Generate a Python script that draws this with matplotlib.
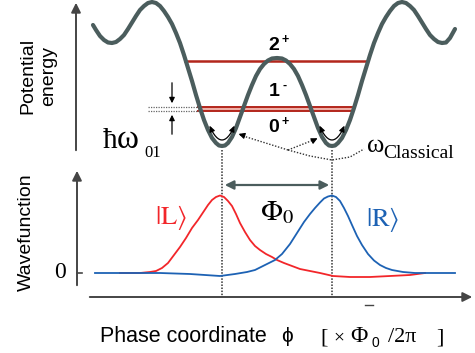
"""
Schema: doppia buca di potenziale (livelli 0+, 1-, 2+) e funzioni d'onda |L>, |R>.
Coordinate in pixel dell'immagine (475x353), asse y invertito.
"""
import numpy as np
import matplotlib
matplotlib.use("Agg")
import matplotlib.pyplot as plt

plt.rcParams["font.family"] = ["Liberation Sans", "DejaVu Sans"]
plt.rcParams["mathtext.fontset"] = "stix"
SERIF = ["Liberation Serif", "DejaVu Serif"]

# --- dati --------------------------------------------------------------------
pot_x = [93, 96, 100, 104, 108, 112, 116, 120, 124, 128, 132, 136, 140, 144, 148,
         152, 156, 160, 164, 168, 172, 176, 180, 184, 188, 192, 196, 200, 204, 208,
         212, 216, 219, 222, 225, 228, 232, 236, 240, 244, 248, 252, 256, 260, 264,
         268, 272, 277, 282, 286, 290, 294, 298, 302, 306, 310, 314, 318, 322, 326,
         329, 332, 335, 338, 342, 346, 350, 354, 358, 362, 366, 370, 374, 378, 382,
         386, 390, 394, 398, 402, 406, 410, 414, 418, 422, 426, 430, 434, 438, 442,
         446, 450, 455]
pot_y = [25, 30, 36, 40, 42.5, 43, 42, 39, 35, 29, 22.5, 16, 10, 6, 3,
         2, 3, 6, 11, 17, 24, 33, 43, 55, 68, 81, 95, 108, 120, 130,
         138, 143, 145.5, 146, 145.5, 143, 137, 128, 117, 106, 95, 85, 76, 69, 64,
         60.5, 58.5, 58, 58.5, 60.5, 64, 69, 76, 85, 95, 106, 117, 128, 137, 143,
         145.5, 146, 145.5, 143, 138, 130, 120, 108, 95, 81, 68, 55, 43, 33, 24,
         17, 11, 6, 3, 2, 3, 6, 10, 16, 22.5, 29, 35, 39, 42, 43,
         42.5, 38, 29]

# livelli energetici
lev2_y, lev2_x = 61, (185, 367)
lev01_y, lev01_x = (107, 111), (198, 352)
level_labels = ["2", "1", "0"]
level_sups = ["+", "-", "+"]
level_label_y = [46, 92, 128]

# funzioni d'onda
wl_x = [120, 140, 150, 156, 162, 168, 174, 180, 186, 192, 198, 204, 208, 212, 216,
        220, 224, 228, 232, 236, 240, 245, 250, 255, 260, 266, 272, 277, 284, 292,
        300, 310, 320, 333, 350, 370, 390, 410, 425]
wl_y = [273, 273, 272, 271, 268, 263, 255, 247, 238, 228, 220, 211, 205, 200, 197,
        195.5, 197, 201, 206, 214, 223, 232, 240, 246, 250, 254, 257, 260, 263, 266,
        269, 271, 273, 276, 277, 277, 276, 275, 273]
wr_x = [95, 160, 190, 205, 220, 235, 247, 255, 265, 275, 282, 290, 297, 304, 310,
        315, 320, 324, 328, 332, 336, 340, 344, 348, 352, 357, 362, 368, 374, 380,
        386, 392, 403, 415, 435, 455]
wr_y = [273, 273, 274, 275, 276, 274, 272, 270, 265, 260, 254, 244, 233, 222, 214,
        208, 202.5, 198.5, 196.5, 195.5, 197, 201, 208, 216, 225, 236, 245, 254, 260.5, 265,
        268, 270, 272, 273, 273, 273]

well_x = (222, 332)   # minimi delle buche
zero_y = 273

# --- colori ------------------------------------------------------------------
C_POT = "#4b5d5d"
C_LEV = "#b3261c"
C_PINK = "#eeb0a8"
C_AX = "#454545"
C_RED = "#f2262a"
C_BLUE = "#1d62b4"

fig = plt.figure(figsize=(4.75, 3.53), dpi=100)
ax = fig.add_axes([0, 0, 1, 1])
ax.set_xlim(0, 475)
ax.set_ylim(353, 0)
ax.axis("off")

# assi
arr = dict(arrowstyle="-|>", color=C_AX, lw=1.4, mutation_scale=14)
ax.annotate("", xy=(76, 0), xytext=(76, 153), arrowprops=arr)
ax.annotate("", xy=(77, 168), xytext=(77, 288), arrowprops=arr)
ax.annotate("", xy=(475, 297), xytext=(87, 297), arrowprops=arr)
ax.plot([77, 82], [zero_y, zero_y], color=C_AX, lw=1.2)
ax.plot([365, 373], [305, 305], color=C_AX, lw=1.0)

# livelli
ax.fill_between(lev01_x, lev01_y[0], lev01_y[1], color=C_PINK, lw=0)
for y in lev01_y:
    ax.plot(lev01_x, [y, y], color=C_LEV, lw=1.4)
ax.plot(lev2_x, [lev2_y, lev2_y], color=C_LEV, lw=1.8)

# potenziale
ax.plot(pot_x, pot_y, color=C_POT, lw=3.0, solid_capstyle="round",
        solid_joinstyle="round", zorder=3)

for lab, sup, y in zip(level_labels, level_sups, level_label_y):
    ax.text(274, y, lab, ha="center", va="center", fontsize=14, fontweight="bold")
    ax.text(285, y - 6, sup, ha="center", va="center", fontsize=9, fontweight="bold")

# hbar omega_01
for y in lev01_y:
    ax.plot([148, 200], [y, y], color="#666666", lw=0.9, ls=(0, (1, 1)))
small = dict(arrowstyle="-|>", color="k", lw=0.9, mutation_scale=8)
ax.annotate("", xy=(172, 106), xytext=(172, 80), arrowprops=small)
ax.annotate("", xy=(172, 112), xytext=(172, 137), arrowprops=small)
ax.text(103, 148, "ħ", ha="left", va="baseline", fontsize=21, family=SERIF)
ax.text(117, 148, "ω", ha="left", va="baseline", fontsize=24, family=SERIF)
ax.text(144, 157, "01", ha="left", va="baseline", fontsize=12, family=SERIF)

# oscillazioni classiche nelle buche
for xc in well_x:
    t = np.linspace(-1, 1, 15)
    ax.plot(xc + 12 * t, 140 - 13 * t ** 2, color="k", lw=0.9, zorder=4)
    ax.annotate("", xy=(xc - 12, 126), xytext=(xc - 10, 131), arrowprops=small)
    ax.annotate("", xy=(xc + 12, 126), xytext=(xc + 10, 131), arrowprops=small)

# omega classical, frecce tratteggiate
dot = dict(color="#333333", lw=1.0, ls=(0, (1, 1.2)))
ax.plot([288, 240], [150, 135], **dot)
ax.plot([288, 316], [150, 139], **dot)
ax.plot([288, 310, 332, 350, 364], [150, 156, 160, 157, 149], **dot)
head = dict(arrowstyle="-|>", color="k", lw=0.8, mutation_scale=9)
ax.annotate("", xy=(236, 133), xytext=(245, 136), arrowprops=head)
ax.annotate("", xy=(320, 137), xytext=(312, 141), arrowprops=head)
ax.text(367, 152, "ω", ha="left", va="baseline", fontsize=19, family=SERIF)
ax.text(383, 158, "Classical", ha="left", va="baseline", fontsize=14, family=SERIF)

# linee verticali tratteggiate
for xc in well_x:
    ax.plot([xc, xc], [150, 297], color="#333333", lw=1.1, ls=(0, (1, 1)), zorder=1)

# Phi_0
ax.annotate("", xy=(222, 185), xytext=(332, 185),
            arrowprops=dict(arrowstyle="<|-|>", color=C_POT, lw=1.6, mutation_scale=13))
ax.text(277, 212, r"$\Phi_0$", ha="center", va="center", fontsize=21)

# funzioni d'onda
ax.plot(wl_x, wl_y, color=C_RED, lw=1.3)
ax.plot(wr_x, wr_y, color=C_BLUE, lw=1.3)
ax.text(171, 218, r"$|\mathrm{L}\rangle$", color=C_RED, ha="center", va="center", fontsize=19)
ax.text(383, 220, r"$|\mathrm{R}\rangle$", color=C_BLUE, ha="center", va="center", fontsize=19)

# etichette
ax.text(38, 76, "Potential\nenergy", rotation=90, ha="center", va="center",
        fontsize=14, linespacing=1.25)
ax.text(26, 232, "Wavefunction", rotation=90, ha="center", va="center", fontsize=14)
ax.text(60, 273, "0", ha="center", va="center", fontsize=17, family=SERIF)
ax.text(100, 342, "Phase coordinate", ha="left", va="baseline", fontsize=15.5)
ax.text(281, 342, "ϕ", ha="left", va="baseline", fontsize=15)
ax.text(320, 342, "[", ha="left", va="baseline", fontsize=16, family=SERIF)
ax.text(333, 342, "×", ha="left", va="baseline", fontsize=14, family=SERIF)
ax.text(350, 342, "Φ", ha="left", va="baseline", fontsize=17, family=SERIF)
ax.text(371, 347, "0", ha="left", va="baseline", fontsize=10)
ax.text(388, 342, "/2π", ha="left", va="baseline", fontsize=16, family=SERIF)
ax.text(436, 342, "]", ha="left", va="baseline", fontsize=16, family=SERIF)

fig.savefig("out.png", dpi=100)
